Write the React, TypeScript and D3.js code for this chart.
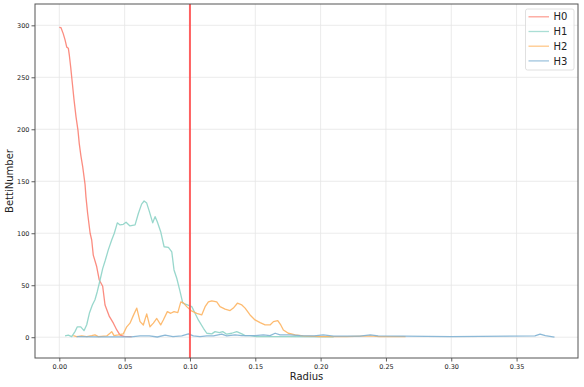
import React, { useEffect, useRef } from 'react';
import * as d3 from 'd3';

// radius / betti number pairs
const h0Radius = [0.0, 0.0013, 0.003, 0.0044, 0.0057, 0.0069, 0.0077, 0.0087, 0.010, 0.0113, 0.0128, 0.0143, 0.0153, 0.0166, 0.0179, 0.0197, 0.0204, 0.0217, 0.0236, 0.0248, 0.026, 0.0286, 0.0306, 0.0332, 0.035, 0.0368, 0.0383, 0.0414, 0.044, 0.0465, 0.0495, 0.0554];
const h0Values = [298, 297.7, 292, 286, 279, 278, 271, 260, 244, 228, 212, 199, 186, 174, 164, 147, 135, 119, 100, 93.5, 79, 68, 55, 49, 31, 25, 20, 13.5, 7, 2, 0.8, 0.5];

const h1Radius = [0.0044, 0.0069, 0.0095, 0.012, 0.0138, 0.0164, 0.0189, 0.021, 0.023, 0.0253, 0.0273, 0.0291, 0.0312, 0.0332, 0.0352, 0.0375, 0.0401, 0.0421, 0.0444, 0.0465, 0.049, 0.0511, 0.0541, 0.058, 0.0605, 0.063, 0.0649, 0.0669, 0.0689, 0.0715, 0.0733, 0.075, 0.0776, 0.0802, 0.0835, 0.0861, 0.0878, 0.0899, 0.0924, 0.0945, 0.098, 0.1014, 0.1039, 0.1064, 0.1103, 0.1129, 0.1167, 0.1192, 0.1225, 0.1251, 0.1282, 0.132, 0.1358, 0.1397, 0.1422, 0.146, 0.1511, 0.1766, 0.21];
const h1Values = [1.2, 2, 0.6, 5.4, 10, 10, 6.3, 12, 23, 31, 36, 44, 55, 66, 74, 84, 93.5, 100, 110, 108, 108.6, 110.6, 107, 108, 119, 128, 131, 129, 121, 110, 116, 111, 101.5, 87, 86.5, 82, 64.7, 56.7, 44, 32.7, 31, 29.4, 23, 16.6, 8.6, 3.8, 3.2, 5.4, 4.4, 5.4, 2.9, 3.8, 5.4, 3.2, 1.5, 1.5, 0.6, 0.6, 0.3];

const h2Radius = [0.0107, 0.0133, 0.0172, 0.021, 0.0248, 0.0273, 0.0299, 0.0363, 0.0388, 0.0401, 0.0419, 0.0452, 0.049, 0.0516, 0.0541, 0.0567, 0.0593, 0.0618, 0.0643, 0.0669, 0.0694, 0.072, 0.0746, 0.0776, 0.0796, 0.0827, 0.0853, 0.0878, 0.0907, 0.093, 0.095, 0.0975, 0.1008, 0.1052, 0.109, 0.1116, 0.1141, 0.1167, 0.1205, 0.123, 0.1269, 0.1307, 0.1332, 0.1363, 0.1397, 0.1422, 0.146, 0.1498, 0.1537, 0.1575, 0.1613, 0.1639, 0.1672, 0.1695, 0.1715, 0.1753, 0.1805, 0.1868, 0.2, 0.22, 0.238, 0.245, 0.265];
const h2Values = [1.5, 0.6, 1.2, 0.6, 1.5, 2.2, 0.6, 1.2, 3.8, 5.4, 1.5, 2.2, 3.2, 10, 13.5, 21, 28, 15, 11.8, 22.4, 10, 13.5, 18, 11.8, 16.6, 24.6, 23, 24.6, 23.7, 34, 33, 29.4, 25.6, 23, 21.4, 29.4, 34, 35, 34, 29.4, 27, 25.6, 28, 32.7, 31, 28, 21.4, 16.6, 14, 11.8, 11.8, 15, 16, 11.8, 7, 3.8, 2.2, 1.2, 0.5, 0.5, 1.2, 0.5, 0.5];

const h3Radius = [0.0133, 0.03, 0.055, 0.0618, 0.069, 0.075, 0.081, 0.087, 0.0937, 0.0988, 0.1026, 0.1077, 0.1129, 0.118, 0.1243, 0.1282, 0.1345, 0.1397, 0.1447, 0.1498, 0.1562, 0.1613, 0.1652, 0.169, 0.1766, 0.1843, 0.195, 0.202, 0.21, 0.23, 0.238, 0.244, 0.3, 0.364, 0.368, 0.372, 0.379];
const h3Values = [0.5, 0.3, 0.4, 1.2, 1.3, 0.2, 2, 0.6, 1.3, 3.2, 1.2, 0.6, 1.2, 1.2, 2.9, 1.2, 2.2, 1.5, 1.5, 1.5, 2.2, 1.5, 3.8, 2.2, 2.2, 1.5, 1.2, 2.2, 1.0, 1.0, 2.2, 1.2, 0.6, 1.2, 2.9, 1.5, 0];

const seriesNames = ['H0', 'H1', 'H2', 'H3'];
const seriesColors = ['#fb8072', '#8dd3c7', '#fdb462', '#80b1d3'];
const xTicks = [0.0, 0.05, 0.1, 0.15, 0.2, 0.25, 0.3, 0.35];
const yTicks = [0, 50, 100, 150, 200, 250, 300];
const cutoff = 0.1;

const W = 584, H = 387;
const m = { left: 35, right: 6, top: 4, bottom: 29 };

export default function App() {
	const svgRef = useRef<SVGSVGElement>(null);

	useEffect(() => {
		const svg = d3.select(svgRef.current);
		svg.selectAll('*').remove();

		const x = d3.scaleLinear().domain([-0.0186, 0.397]).range([m.left, W - m.right]);
		const y = d3.scaleLinear().domain([-20, 320.5]).range([H - m.bottom, m.top]);

		const font = 'DejaVu Sans, sans-serif';
		const g = svg.append('g');

		// grid
		g.selectAll('line.gx').data(xTicks).enter().append('line')
			.attr('x1', d => x(d)).attr('x2', d => x(d))
			.attr('y1', m.top).attr('y2', H - m.bottom)
			.attr('stroke', '#e6e6e6').attr('stroke-width', 0.8);
		g.selectAll('line.gy').data(yTicks).enter().append('line')
			.attr('y1', d => y(d)).attr('y2', d => y(d))
			.attr('x1', m.left).attr('x2', W - m.right)
			.attr('stroke', '#e6e6e6').attr('stroke-width', 0.8);

		// series
		const all = [[h0Radius, h0Values], [h1Radius, h1Values], [h2Radius, h2Values], [h3Radius, h3Values]];
		const line = d3.line<[number, number]>().x(d => x(d[0])).y(d => y(d[1]));
		all.forEach(([rs, vs], i) => {
			const pts = rs.map((r, k) => [r, vs[k]] as [number, number]);
			g.append('path').attr('d', line(pts))
				.attr('fill', 'none').attr('stroke', seriesColors[i]).attr('stroke-opacity', 0.9)
				.attr('stroke-width', 1.3).attr('stroke-linejoin', 'round');
		});

		// cutoff line
		g.append('line')
			.attr('x1', x(cutoff)).attr('x2', x(cutoff))
			.attr('y1', m.top).attr('y2', H - m.bottom)
			.attr('stroke', '#ff5050').attr('stroke-opacity', 0.9).attr('stroke-width', 2);

		// axes
		const xAx = g.append('g').attr('transform', `translate(0,${H - m.bottom})`)
			.call(d3.axisBottom(x).tickValues(xTicks).tickFormat(d3.format('.2f')).tickSize(3.5).tickSizeOuter(0));
		const yAx = g.append('g').attr('transform', `translate(${m.left},0)`)
			.call(d3.axisLeft(y).tickValues(yTicks).tickSize(3.5).tickSizeOuter(0));
		[xAx, yAx].forEach(a => {
			a.select('.domain').remove();
			a.selectAll('line').attr('stroke', '#333').attr('stroke-width', 0.8);
			a.selectAll('text').attr('font-family', font).attr('font-size', 6.5).attr('fill', '#222');
		});
		xAx.selectAll('text').attr('dy', '0.71em').attr('y', 6);
		yAx.selectAll('text').attr('x', -5.5);

		// spines
		g.append('rect')
			.attr('x', m.left).attr('y', m.top)
			.attr('width', W - m.left - m.right).attr('height', H - m.top - m.bottom)
			.attr('fill', 'none').attr('stroke', '#555').attr('stroke-width', 1);

		// labels
		g.append('text').attr('x', (m.left + W - m.right) / 2).attr('y', 380)
			.attr('text-anchor', 'middle').attr('font-family', font).attr('font-size', 10).attr('fill', '#222')
			.text('Radius');
		g.append('text').attr('transform', `translate(12.5,${(m.top + H - m.bottom) / 2}) rotate(-90)`)
			.attr('text-anchor', 'middle').attr('font-family', font).attr('font-size', 10).attr('fill', '#222')
			.text('BettiNumber');

		// legend
		const lg = g.append('g').attr('transform', 'translate(525.5,9)');
		lg.append('rect').attr('width', 48.5).attr('height', 61).attr('rx', 2)
			.attr('fill', 'white').attr('fill-opacity', 0.8).attr('stroke', '#d8d8d8').attr('stroke-width', 0.8);
		seriesNames.forEach((name, i) => {
			const yy = 7.8 + i * 14.7;
			lg.append('line').attr('x1', 3).attr('x2', 23.5).attr('y1', yy).attr('y2', yy)
				.attr('stroke', seriesColors[i]).attr('stroke-opacity', 0.75).attr('stroke-width', 1.3);
			lg.append('text').attr('x', 28).attr('y', yy + 3.6)
				.attr('font-family', font).attr('font-size', 10).attr('fill', '#222').text(name);
		});
	}, []);

	return (
		<svg ref={svgRef} width={W} height={H} style={{ position: 'absolute', left: 0, top: 0, background: 'white' }} />
	);
}
